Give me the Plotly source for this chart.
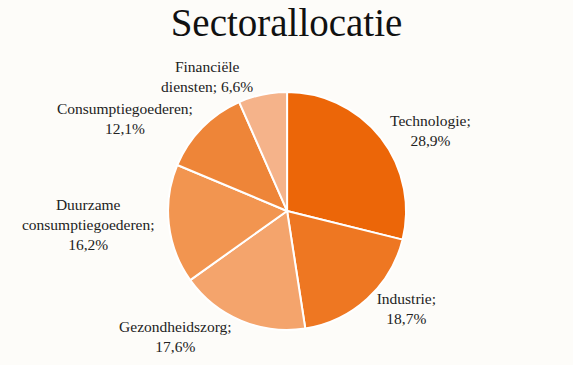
import plotly.graph_objects as go

sectors = ["Technologie", "Industrie", "Gezondheidszorg", "Duurzame<br>consumptiegoederen",
           "Consumptiegoederen", "Financiële<br>diensten"]
values = [28.9, 18.7, 17.6, 16.2, 12.1, 6.6]
value_labels = ["28,9%", "18,7%", "17,6%", "16,2%", "12,1%", "6,6%"]
colors = ["#EC6608", "#EE7722", "#F4A46C", "#F29550", "#EE8538", "#F5B38A"]

texts = []
for s, v in zip(sectors, value_labels):
    if s.startswith("Financi"):
        texts.append("Financiële<br>diensten; " + v)
    else:
        texts.append(s + ";<br>" + v)

fig = go.Figure(go.Pie(
    labels=sectors,
    values=values,
    text=texts,
    textinfo="text",
    textposition="outside",
    sort=False,
    direction="clockwise",
    rotation=0,
    marker=dict(colors=colors, line=dict(color="white", width=2)),
    textfont=dict(family="Liberation Serif", size=15.5, color="#222222"),
    domain=dict(x=[0.293, 0.709], y=[0.096, 0.748]),
    showlegend=False,
    hoverinfo="skip",
))

fig.update_layout(
    width=573, height=365,
    margin=dict(l=0, r=0, t=0, b=0),
    paper_bgcolor="#FDFCF9",
    plot_bgcolor="#FDFCF9",
    title=dict(text="Sectorallocatie", x=0.5, xanchor="center", y=0.975, yanchor="top",
               font=dict(family="Liberation Serif", size=39, color="#111111")),
)

fig.write_html("out.html")
